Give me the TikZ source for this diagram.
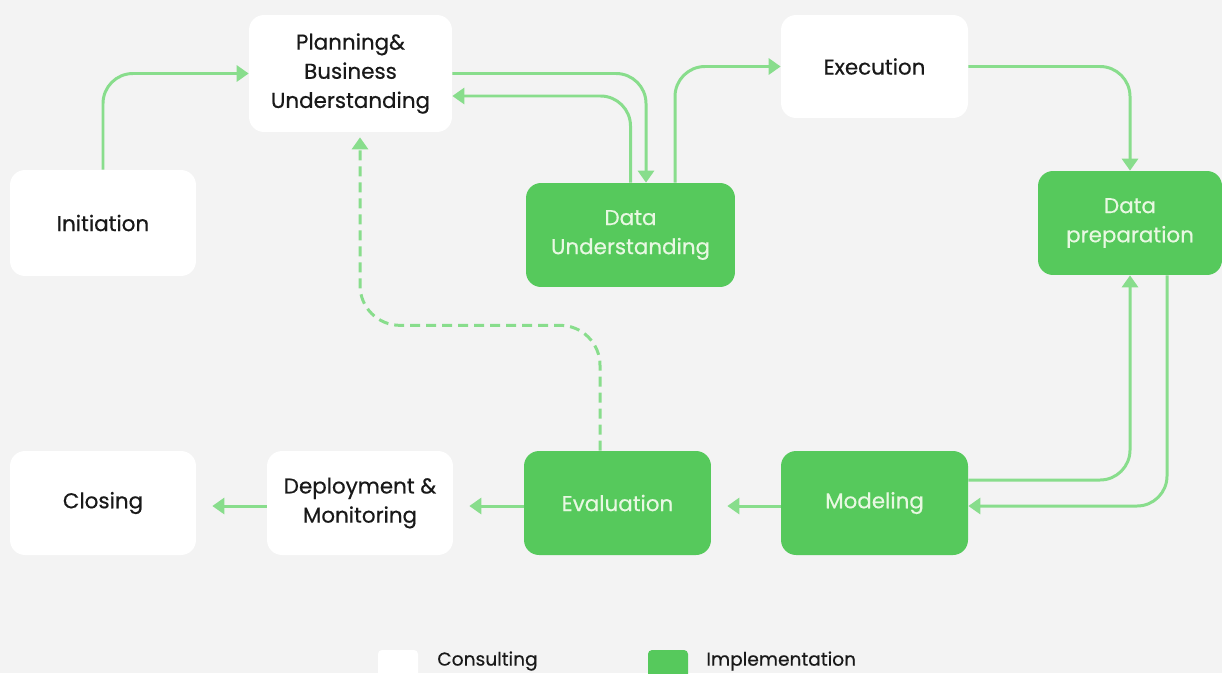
\documentclass[tikz,border=0pt]{standalone}
\usepackage{fontspec}
\setmainfont{Poppins}[FakeBold=0.5]
\usetikzlibrary{arrows.meta,calc}
\definecolor{bg}{RGB}{243,243,243}
\definecolor{boxgreen}{RGB}{86,201,92}
\definecolor{linegreen}{RGB}{136,221,140}
\definecolor{txtdark}{RGB}{25,25,25}
\definecolor{txtlight}{RGB}{232,248,226}
\tikzset{
  base/.style={rounded corners=0.3cm, align=center, inner sep=0pt,
    font=\fontsize{12.2}{16.6}\selectfont},
  wbox/.style={base, fill=white, text=txtdark},
  gbox/.style={base, fill=boxgreen, text=txtlight},
  arr/.style={draw=linegreen, line width=1.7pt, rounded corners=0.6cm,
    -{Triangle[width=0.32cm,length=0.24cm]}},
  dash arr/.style={arr, dash pattern=on 0.2cm off 0.12cm},
  legtext/.style={anchor=west, text=txtdark, inner sep=0pt,
    font=\fontsize{10.6}{12}\selectfont}
}
\begin{document}
\begin{tikzpicture}[x=0.02cm,y=-0.02cm]
\fill[bg] (0,0) rectangle (1222,673);
\useasboundingbox (0,0) rectangle (1222,673);
\begin{scope}
\clip (0,0) rectangle (1222,673);
% nodes
\node[wbox, minimum width=4.06cm, minimum height=2.34cm] (plan) at (350.5,73.5) {Planning\&\\Business\\Understanding};
\node[wbox, minimum width=3.74cm, minimum height=2.06cm] (exec) at (874.5,66.5) {Execution};
\node[wbox, minimum width=3.72cm, minimum height=2.12cm] (init) at (103,223) {Initiation};
\node[gbox, minimum width=4.18cm, minimum height=2.08cm] (du) at (630.5,235) {Data\\Understanding};
\node[gbox, minimum width=3.68cm, minimum height=2.08cm] (dp) at (1130,223) {Data\\preparation};
\node[wbox, minimum width=3.72cm, minimum height=2.08cm] (close) at (103,503) {Closing};
\node[wbox, minimum width=3.72cm, minimum height=2.08cm] (deploy) at (360,503) {Deployment \&\\Monitoring};
\node[gbox, minimum width=3.74cm, minimum height=2.08cm] (eval) at (617.5,503) {Evaluation};
\node[gbox, minimum width=3.74cm, minimum height=2.08cm] (model) at (874.5,503) {Modeling};
% connectors
\draw[arr] (init.north) |- (plan.west);
\draw[arr] (plan.east) -| ($(du.north)+(15.5,0)$);
\draw[arr] (du.north) |- ($(plan.east)+(0,22.5)$);
\draw[arr] ($(du.north)+(44.5,0)$) |- (exec.west);
\draw[arr] (exec.east) -| (dp.north);
\draw[arr] ($(model.east)+(0,-23)$) -| (dp.south);
\draw[arr] ($(dp.south)+(37,0)$) |- ($(model.east)+(0,3)$);
\draw[arr, shorten >=0.32cm] ($(model.west)+(0,3)$) -- ($(eval.east)+(0,3)$);
\draw[arr, shorten >=0.32cm] ($(eval.west)+(0,3)$) -- ($(deploy.east)+(0,3)$);
\draw[arr, shorten >=0.32cm] ($(deploy.west)+(0,3)$) -- ($(close.east)+(0,3)$);
\draw[dash arr, rounded corners=0.8cm, shorten >=0.1cm] ($(eval.north)+(-17.5,0)$) |- ($(plan.south)+(9.5,193)$) -- ($(plan.south)+(9.5,0)$);
% legend
\node[fill=white, rounded corners=0.08cm, minimum width=0.8cm, minimum height=0.8cm, inner sep=0pt] (legw) at (398,670) {};
\node[fill=boxgreen, rounded corners=0.08cm, minimum width=0.8cm, minimum height=0.8cm, inner sep=0pt] (legg) at (668,670) {};
\node[legtext] (legwt) at (437,661) {Consulting};
\node[legtext] (leggt) at (706,661) {Implementation};
\end{scope}
\end{tikzpicture}
\end{document}
